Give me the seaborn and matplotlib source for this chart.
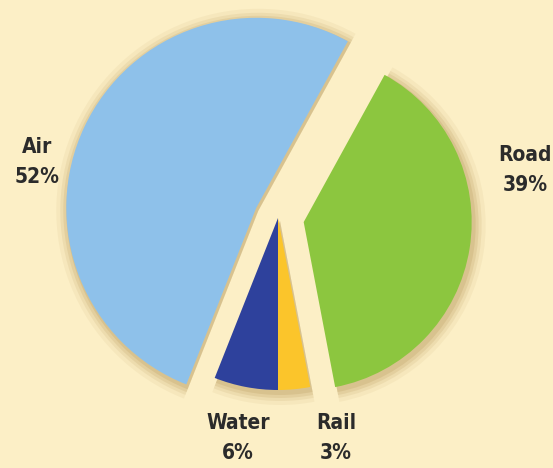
import matplotlib.pyplot as plt
import seaborn as sns

# transport mode share
modes = ['Rail', 'Road', 'Air', 'Water']
shares = [3, 39, 52, 6]
colors = ['#FBC52B', '#8CC63F', '#8EC1EA', '#2E419C']

# layout (pixel units, y up)
explode = [0, 26, 24, 0]
radii = [172, 168, 190, 172]
label_pos = {'Air': (37, 306), 'Road': (525, 298), 'Water': (238, 30), 'Rail': (336, 30)}

bg = '#FCEFC6'
sns.set_theme(style="white")
plt.rcParams['font.family'] = ['DejaVu Sans']

fig = plt.figure(figsize=(5.53, 4.68), dpi=100, facecolor=bg)
ax = fig.add_axes([0, 0, 1, 1])
ax.set_facecolor(bg)

center = (278, 250)

# soft shadow behind the wedges
for k, a in [(12, 0.08), (8, 0.12), (5, 0.16), (2, 0.2)]:
    sh, _ = ax.pie(shares, explode=explode, startangle=270, center=(center[0] + 2, center[1] - 3),
                   radius=100, colors=['#B0904F'] * 4, wedgeprops=dict(linewidth=0))
    for w, r in zip(sh, radii):
        w.set_radius(r + k)
        w.set_alpha(a)

wedges, _ = ax.pie(shares, explode=explode, startangle=270, center=center, radius=100,
                   colors=colors, wedgeprops=dict(linewidth=0))
for w, r in zip(wedges, radii):
    w.set_radius(r)

for m, s in zip(modes, shares):
    x, y = label_pos[m]
    ax.text(x, y, f"{m}\n{s}%", ha='center', va='center', fontsize=15, color='#2B2B2B',
            fontweight='bold', fontstretch='condensed', linespacing=1.6)

ax.set_xlim(0, 553)
ax.set_ylim(0, 468)
ax.set_aspect('equal')
ax.axis('off')

plt.savefig('out.png', dpi=100, facecolor=bg)
